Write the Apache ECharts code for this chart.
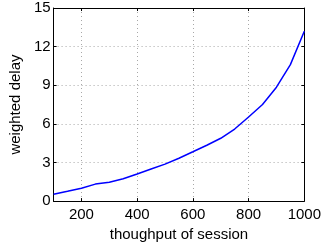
<!DOCTYPE html>
<html>
<head>
<meta charset="utf-8">
<script src="https://cdn.jsdelivr.net/npm/echarts@6/dist/echarts.min.js"></script>
<style>
  html, body { margin: 0; padding: 0; background: #fff; }
  #main { width: 324px; height: 247px; }
</style>
</head>
<body>
<div id="main"></div>
<script>
// data
const throughput = [100, 150, 200, 250, 300, 350, 400, 450, 500, 550, 600, 650, 700, 750, 800, 850, 900, 950, 1000];
const delay = [0.53, 0.76, 1.0, 1.32, 1.47, 1.73, 2.1, 2.49, 2.87, 3.33, 3.83, 4.34, 4.88, 5.6, 6.53, 7.5, 8.85, 10.6, 13.2];
const xTicks = [200, 400, 600, 800, 1000];
const yTicks = [0, 3, 6, 9, 12, 15];

const chart = echarts.init(document.getElementById('main'));
const font = 'Liberation Sans, Arial, Helvetica, sans-serif';

const points = throughput.map((t, i) => [t, delay[i]]);

const gridLine = { show: true, lineStyle: { color: '#a8a8a8', type: [1, 3], width: 1 } };

const option = {
  animation: false,
  grid: { left: 45, top: 8, right: 18, bottom: 42 },
  xAxis: [
    {
      type: 'value', min: 100, max: 1000,
      axisLine: { onZero: false, lineStyle: { color: '#000', width: 1 } },
      axisTick: { inside: true, length: 3, customValues: xTicks, lineStyle: { color: '#000' } },
      axisLabel: { customValues: xTicks, formatter: v => String(v), color: '#000', fontSize: 15, fontFamily: font, margin: 6 },
      splitLine: gridLine,
      name: 'thoughput of session', nameLocation: 'middle', nameGap: 23,
      nameTextStyle: { color: '#000', fontSize: 15, fontFamily: font }
    },
    {
      type: 'value', min: 100, max: 1000, position: 'top',
      axisLine: { onZero: false, lineStyle: { color: '#000', width: 1 } },
      axisTick: { inside: true, length: 3, customValues: xTicks, lineStyle: { color: '#000' } },
      axisLabel: { show: false },
      splitLine: { show: false }
    }
  ],
  yAxis: [
    {
      type: 'value', min: 0, max: 15, interval: 3,
      axisLine: { show: true, onZero: false, lineStyle: { color: '#000', width: 1 } },
      axisTick: { show: true, inside: true, length: 3, customValues: yTicks, lineStyle: { color: '#000' } },
      axisLabel: { customValues: yTicks, color: '#000', fontSize: 15, fontFamily: font, margin: 3 },
      splitLine: gridLine,
      name: 'weighted delay', nameLocation: 'middle', nameGap: 27,
      nameTextStyle: { color: '#000', fontSize: 15, fontFamily: font }
    },
    {
      type: 'value', min: 0, max: 15, interval: 3, position: 'right',
      axisLine: { show: true, onZero: false, lineStyle: { color: '#000', width: 1 } },
      axisTick: { show: true, inside: true, length: 3, lineStyle: { color: '#000' } },
      axisLabel: { show: false },
      splitLine: { show: false }
    }
  ],
  series: [
    {
      type: 'line',
      data: points,
      showSymbol: false,
      lineStyle: { color: '#0000ff', width: 1.5 },
      itemStyle: { color: '#0000ff' }
    }
  ]
};

chart.setOption(option);
</script>
</body>
</html>
